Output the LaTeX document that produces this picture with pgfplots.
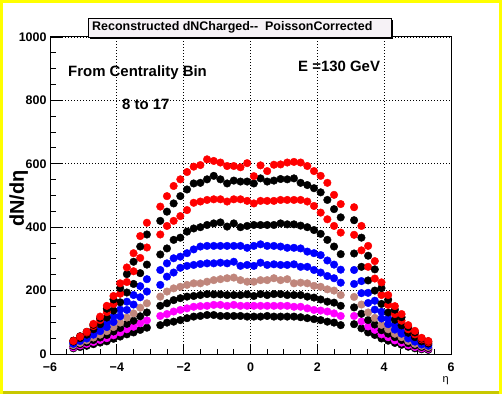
\documentclass[border=0pt]{standalone}
\usepackage{fontspec}
\setmainfont{Liberation Sans}
\usepackage{pgfplots}
\usepackage{pgfplotstable}
\pgfplotsset{compat=1.18}
\definecolor{rootbrown}{RGB}{192,134,124}
\definecolor{rootyellow}{RGB}{255,255,0}
\definecolor{rootolive}{RGB}{200,200,0}
\definecolor{paveface}{RGB}{246,242,246}
\definecolor{rootmagenta}{RGB}{255,0,255}
\pgfplotstableread{
eta s1 s2 s3 s4 s5 s6 s7 s8 s9 s10
-5.3 41 42 42 39 35 32 28 25 21 18
-5.1 55 56 55 50 45 41 35 31 27 22
-4.9 70 70 68 61 55 49 43 37 32 26
-4.7 95 92 88 78 69 61 52 44 38 31
-4.5 118 113 107 94 83 72 61 52 44 36
-4.3 152 143 132 115 99 85 72 60 50 40
-4.1 183 172 158 137 118 101 85 71 59 48
-3.9 223 208 190 163 140 119 99 82 68 55
-3.7 273 252 227 194 165 139 115 95 78 62
-3.5 318 291 261 221 186 156 128 105 86 68
-3.3 372 339 303 255 214 179 146 119 97 76
-3.1 414 377 336 282 236 197 160 131 106 83
-2.7 465 420 377 314 265 218 181 152 120 91
-2.5 498 449 404 333 286 244 197 160 126 99
-2.3 530 475 420 360 302 257 207 170 134 102
-2.1 551 498 435 367 307 272 212 176 139 107
-1.9 574 519 454 386 318 278 218 181 144 113
-1.7 591 538 477 396 330 281 223 183 149 118
-1.5 596 540 481 400 339 284 223 186 151 120
-1.3 614 551 486 407 341 286 228 189 152 123
-1.1 609 562 488 412 341 286 233 188 155 123
-0.9 604 551 488 415 341 288 236 188 155 120
-0.7 593 538 481 402 341 286 239 186 152 120
-0.5 593 547 488 412 341 291 241 186 155 120
-0.3 589 544 488 400 341 278 233 186 152 120
-0.1 602 544 483 404 335 281 228 188 152 118
0.1 561 538 475 407 341 278 228 183 152 118
0.3 595 554 483 407 346 288 233 189 152 118
0.5 577 544 483 407 341 281 233 186 152 120
0.7 597 547 483 407 341 283 239 189 152 118
0.9 598 552 486 412 339 281 233 189 152 118
1.1 604 551 486 409 335 281 236 186 152 118
1.3 606 554 486 409 335 283 223 186 149 118
1.5 604 540 486 405 333 275 225 186 149 116
1.7 593 533 481 400 323 275 223 181 144 113
1.9 577 523 467 391 318 265 215 178 139 110
2.1 562 510 446 379 312 257 212 172 137 107
2.3 540 486 425 360 295 246 204 165 134 102
2.5 502 457 404 339 282 239 200 162 128 99
2.7 473 431 383 315 266 225 186 152 120 91
3.1 463 422 376 317 265 221 180 147 120 94
3.32 404 367 327 275 230 192 156 127 103 81
3.52 341 310 275 232 193 161 131 107 87 68
3.72 293 267 238 200 168 140 114 93 76 60
3.92 226 208 186 158 133 112 92 75 62 49
4.12 186 171 155 131 112 94 78 64 53 42
4.32 151 140 126 108 91 77 64 53 43 35
4.52 126 116 105 90 76 64 53 44 36 29
4.72 91 85 78 67 57 49 41 34 28 23
4.92 73 68 62 53 46 39 32 27 22 18
5.12 51 49 46 40 35 30 26 22 18 15
5.32 41 40 37 33 30 26 22 19 16 13
}\dndeta
\begin{document}
\begin{tikzpicture}
\useasboundingbox (0,0) rectangle (502bp,394bp);
\fill[white] (0,0) rectangle (502bp,394bp);
\begin{axis}[
  at={(50bp,40bp)}, anchor=south west,
  scale only axis, width=401bp, height=317bp,
  xmin=-6, xmax=6, ymin=0, ymax=1000,
  xtick={-6,-4,-2,0,2,4,6},
  xticklabels={−6,−4,−2,0,2,4,6},
  ytick={0,200,400,600,800,1000},
  /pgf/number format/1000 sep={},
  minor x tick num=3, minor y tick num=3,
  tick align=inside, tick pos=left,
  major tick length=10bp, minor tick length=5bp,
  ytick style={/pgfplots/major tick length=12bp,/pgfplots/minor tick length=6bp},
  tick style={black, line width=0.9bp},
  axis line style={black, line width=1bp},
  grid=major,
  major grid style={black, line width=0.8bp, dash pattern=on 0.8bp off 2.2bp},
  /pgf/number format/assume math mode=true,
  ticklabel style={font=\fontsize{12.5}{14}\selectfont\bfseries},
  yticklabel style={xshift=0bp},
  xticklabel style={yshift=-5bp},
  ylabel={dN/dη},
  ylabel style={font=\fontsize{20}{23}\selectfont\bfseries, at={(axis description cs:-0.078,0.49)}, anchor=center},
  xlabel={η},
  xlabel style={font=\fontsize{11}{13}\selectfont, at={(axis description cs:0.987,-0.085)}, anchor=center},
  clip=false,
]
\addplot[only marks, mark=*, mark size=3.8bp, color=black] table[x=eta, y=s10] {\dndeta};
\addplot[only marks, mark=*, mark size=3.8bp, color=rootmagenta] table[x=eta, y=s9] {\dndeta};
\addplot[only marks, mark=*, mark size=3.8bp, color=black] table[x=eta, y=s8] {\dndeta};
\addplot[only marks, mark=*, mark size=3.8bp, color=rootbrown] table[x=eta, y=s7] {\dndeta};
\addplot[only marks, mark=*, mark size=3.8bp, color=blue] table[x=eta, y=s6] {\dndeta};
\addplot[only marks, mark=*, mark size=3.8bp, color=blue] table[x=eta, y=s5] {\dndeta};
\addplot[only marks, mark=*, mark size=3.8bp, color=black] table[x=eta, y=s4] {\dndeta};
\addplot[only marks, mark=*, mark size=3.8bp, color=red] table[x=eta, y=s3] {\dndeta};
\addplot[only marks, mark=*, mark size=3.8bp, color=black] table[x=eta, y=s2] {\dndeta};
\addplot[only marks, mark=*, mark size=3.8bp, color=red] table[x=eta, y=s1] {\dndeta};
\end{axis}
% title pave with shadow
\fill[black] (90bp,355bp) rectangle (393bp,374bp);
\filldraw[fill=paveface, draw=black, line width=0.8bp] (88bp,357bp) rectangle (391bp,376bp);
\node[anchor=west, inner sep=0pt, font=\fontsize{12.5}{14}\selectfont\bfseries] at (92bp,367bp) {Reconstructed dNCharged-{}- \ PoissonCorrected};
% annotations
\node[anchor=west, inner sep=0pt, font=\fontsize{15}{18}\selectfont\bfseries] at (68bp,321bp) {From Centrality Bin};
\node[anchor=west, inner sep=0pt, font=\fontsize{15}{18}\selectfont\bfseries] at (122bp,290bp) {8 to 17};
\node[anchor=west, inner sep=0pt, font=\fontsize{15}{18}\selectfont\bfseries] at (298bp,328bp) {E =130 GeV};
% canvas border
\fill[rootyellow] (0,0) rectangle (3bp,394bp);
\fill[rootyellow] (0,391bp) rectangle (502bp,394bp);
\fill[rootyellow] (499bp,0) rectangle (502bp,394bp);
\fill[rootolive] (3bp,0) rectangle (499bp,3bp);
\end{tikzpicture}
\end{document}
